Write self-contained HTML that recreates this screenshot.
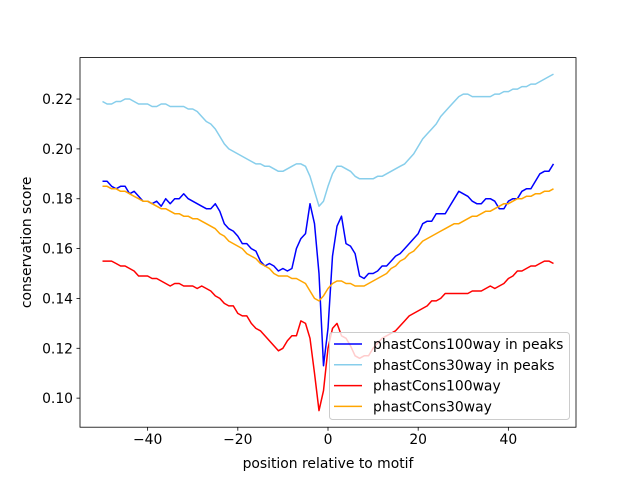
<!DOCTYPE html>
<html><head><meta charset="utf-8"><style>
body{margin:0;background:#fff;}
svg{display:block;font-family:"DejaVu Sans","Liberation Sans",sans-serif;}
</style></head><body>
<svg id="chart" width="640" height="480"></svg>
<script>
const xs=[];for(let i=-50;i<=50;i++)xs.push(i);
const peaks100=[.187,.187,.185,.184,.185,.185,.182,.183,.181,.179,.179,.178,.179,.177,.180,.178,.180,.180,.182,.180,.179,.178,.177,.176,.176,.178,.175,.170,.168,.167,.165,.162,.162,.160,.159,.155,.153,.154,.153,.151,.152,.151,.152,.160,.164,.166,.178,.170,.150,.113,.128,
.157,.169,.173,.162,.161,.158,.149,.148,.150,.150,.151,.153,.153,.155,.157,.158,.160,.162,.164,.166,.170,.171,.171,.174,.174,.174,.177,.180,.183,.182,.181,.179,.178,.178,.180,.180,.179,.176,.176,.179,.180,.180,.183,.184,.184,.187,.190,.191,.191,.194,.193];
const peaks30=[.219,.218,.218,.219,.219,.220,.220,.219,.218,.218,
.218,.217,.217,.218,.218,.217,.217,.217,.217,.216,
.216,.215,.213,.211,.210,.208,.205,.202,.200,.199,
.198,.197,.196,.195,.194,.194,.193,.193,.192,.191,
.191,.192,.193,.194,.194,.193,.189,.183,.177,.179,.185,
.190,.193,.193,.192,.191,.189,.188,.188,.188,.188,
.189,.189,.190,.191,.192,.193,.194,.196,.198,.201,
.204,.206,.208,.210,.213,.215,.217,.219,.221,.222,
.222,.221,.221,.221,.221,.221,.222,.222,.223,.223,
.224,.224,.225,.225,.226,.226,.227,.228,.229,.230];
const all100=[.155,.155,.155,.154,.153,.153,.152,.151,.149,.149,.149,.148,.148,.147,.146,.145,.146,.146,.145,.145,.145,.144,.145,.144,.143,.141,.140,.138,.137,.137,.134,.133,.133,.130,.128,.127,.125,.123,.121,.119,.120,.123,.125,.125,.131,.130,.124,.110,.095,.103,.120,
.128,.130,.125,.124,.121,.117,.116,.117,.117,.120,.122,.124,.125,.126,.127,.129,.131,.133,.134,.135,.136,.137,.139,.139,.140,.142,.142,.142,.142,.142,.142,.143,.143,.143,.144,.145,.144,.145,.146,.148,.149,.151,.151,.152,.153,.153,.154,.155,.155,.154,.155];
const all30=[.185,.185,.184,.184,.183,.183,.182,.181,.180,.179,.179,.178,.177,.176,.176,.175,.174,.174,.173,.173,.172,.172,.171,.170,.169,.168,.166,.165,.163,.162,.161,.160,.158,.157,.156,.154,.153,.152,.150,.149,.149,.149,.148,.148,.147,.146,.143,.140,.139,.141,.144,
.146,.147,.147,.146,.146,.145,.145,.145,.146,.147,.148,.149,.150,.152,.153,.155,.156,.158,.159,.161,.163,.164,.165,.166,.167,.168,.169,.170,.170,.171,.172,.173,.173,.174,.175,.175,.176,.177,.178,.178,.179,.180,.180,.181,.181,.182,.182,.183,.183,.184,.184];
const xticks=[-40,-20,0,20,40];
const yticks=[0.10,0.12,0.14,0.16,0.18,0.20,0.22];
const seriesNames=["phastCons100way in peaks","phastCons30way in peaks","phastCons100way","phastCons30way"];
const seriesColors=["#0000ff","#87ceeb","#ff0000","#ffa500"];
const L=80,R=576,T=57.6,B=427.2,xmin=-55,xmax=55,ymin=0.08834,ymax=0.23663;
const X=v=>L+(v-xmin)/(xmax-xmin)*(R-L);
const Y=v=>B-(v-ymin)/(ymax-ymin)*(B-T);
const NS="http://www.w3.org/2000/svg";
const svg=document.getElementById('chart');
function mk(t,a,p){const e=document.createElementNS(NS,t);for(const k in a)e.setAttribute(k,a[k]);(p||svg).appendChild(e);return e;}
[peaks100,peaks30,all100,all30].forEach((d,i)=>{
  const p=mk('polyline',{points:d.map((v,j)=>X(xs[j]).toFixed(1)+','+Y(v).toFixed(1)).join(' '),fill:'none',stroke:seriesColors[i],'stroke-width':1.5,'stroke-linejoin':'round'});
  
  
});
const ax=mk('rect',{x:L,y:T,width:R-L,height:B-T,fill:'none',stroke:'#000','stroke-width':0.8});


xticks.forEach(v=>{
  mk('line',{x1:X(v),x2:X(v),y1:B,y2:B+3.5,stroke:'#000','stroke-width':0.8});
  const t=mk('text',{x:X(v),y:B+17,'text-anchor':'middle','font-size':10*1.389,fill:'#000'});
  t.textContent=v<0?'\u2212'+(-v):v;
  
  
});
yticks.forEach(v=>{
  mk('line',{x1:L-3.5,x2:L,y1:Y(v),y2:Y(v),stroke:'#000','stroke-width':0.8});
  const t=mk('text',{x:L-7,y:Y(v)+5,'text-anchor':'end','font-size':10*1.389,fill:'#000'});
  t.textContent=v.toFixed(2);
  
  
});
const xl=mk('text',{x:(L+R)/2,y:468,'text-anchor':'middle','font-size':13.9});
xl.textContent='position relative to motif';


const yl=mk('text',{x:31,y:(T+B)/2,'text-anchor':'middle','font-size':13.9,transform:'rotate(-90 31 '+((T+B)/2)+')'});
yl.textContent='conservation score';


const lg=mk('g',{});


mk('rect',{x:329.5,y:332.5,width:240,height:87,rx:3,fill:'#fff','fill-opacity':0.8,stroke:'#ccc'},lg);
seriesNames.forEach((n,i)=>{
  const yy=344+i*20.8;
  mk('line',{x1:334,x2:362,y1:yy,y2:yy,stroke:seriesColors[i],'stroke-width':1.5},lg);
  const t=mk('text',{x:373,y:yy+5,'font-size':13.9},lg);
  t.textContent=n;
  
  
});
</script>
</body></html>
